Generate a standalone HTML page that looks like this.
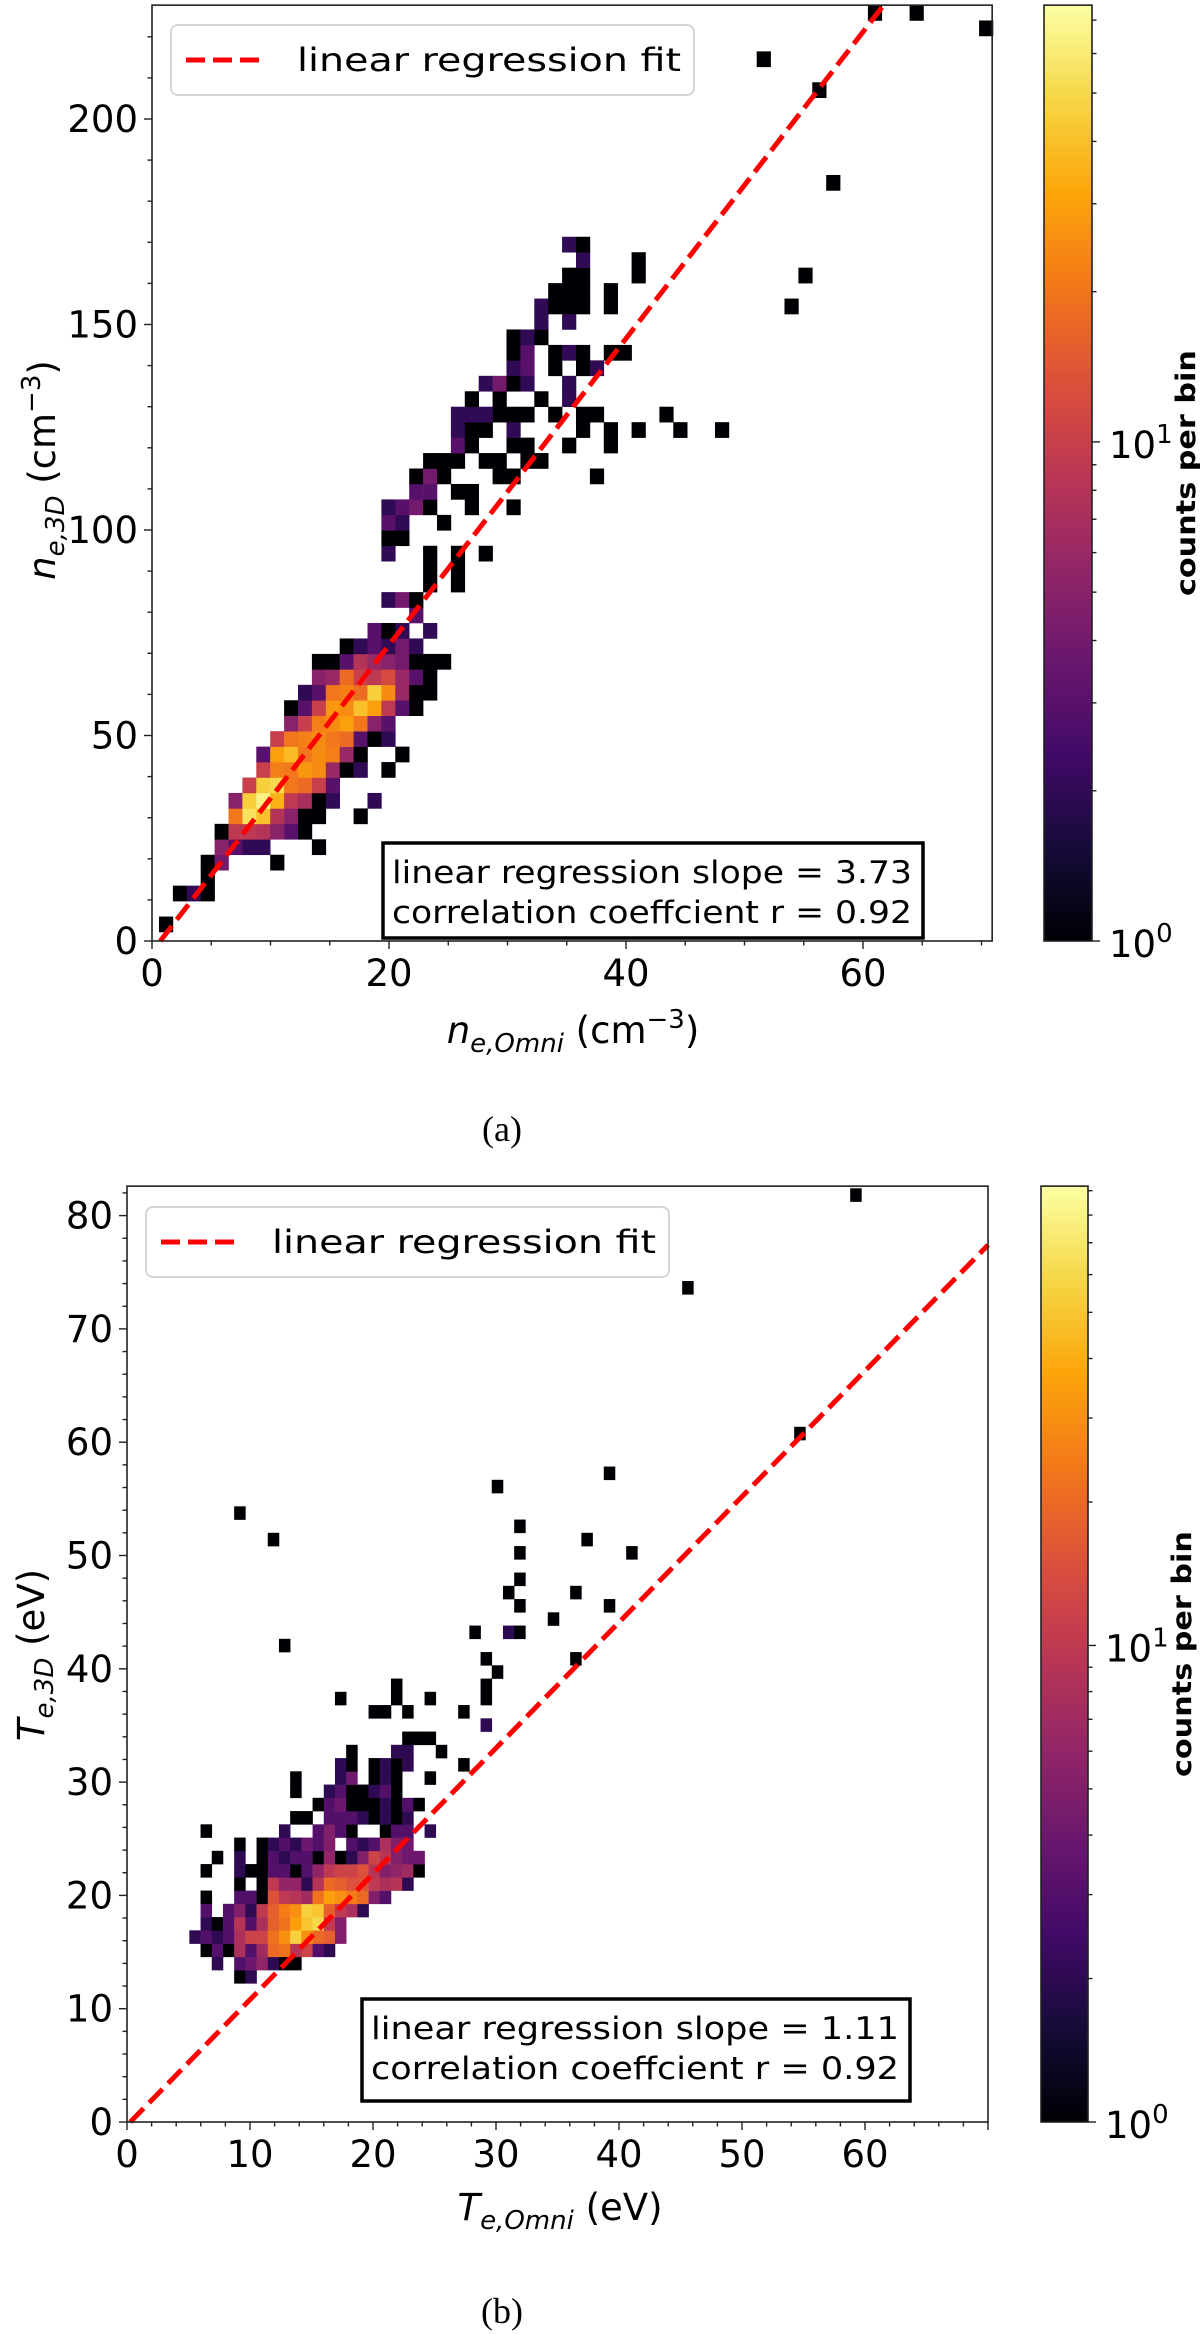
<!DOCTYPE html>
<html><head><meta charset="utf-8"><title>2D histogram comparison</title>
<style>html,body{margin:0;padding:0;background:#fff;}svg{display:block;}text{font-family:"DejaVu Sans","Liberation Sans",sans-serif;}</style>
</head><body>
<svg id="fig" xmlns="http://www.w3.org/2000/svg" width="1200" height="2334" viewBox="0 0 1200 2334">
<defs>
<linearGradient id="inf" x1="0" y1="1" x2="0" y2="0">
<stop offset="0" stop-color="#000004"/><stop offset="0.1" stop-color="#160b39"/><stop offset="0.2" stop-color="#420a68"/><stop offset="0.3" stop-color="#6a176e"/><stop offset="0.4" stop-color="#932667"/><stop offset="0.5" stop-color="#bc3754"/><stop offset="0.6" stop-color="#dd513a"/><stop offset="0.7" stop-color="#f37819"/><stop offset="0.8" stop-color="#fca50a"/><stop offset="0.9" stop-color="#f6d746"/><stop offset="1" stop-color="#fcffa4"/>
</linearGradient>
</defs>
<g id="top"></g>
<g id="bot"></g>
<text x="502" y="1141" font-family="Liberation Serif,serif" font-size="36" text-anchor="middle" style="font-family:'Liberation Serif',serif">(a)</text>
<text x="502" y="2323" font-family="Liberation Serif,serif" font-size="36" text-anchor="middle" style="font-family:'Liberation Serif',serif">(b)</text>
</svg>
<script>
// ---- Panel (a) data: bins [col,row,count] ----
const topXTicks = [0, 20, 40, 60];
const topYTicks = [0, 50, 100, 150, 200];
const topSlope = 3.73;
const topIntercept = -2.6;
const topBins = [[0,0,1],[1,2,1],[2,2,2],[3,2,1],[3,3,1],[3,4,1],[4,4,4],[8,4,1],
[4,5,5],[5,5,3],[6,5,2],[7,5,2],[11,5,1],
[4,6,1],[5,6,9],[6,6,9],[7,6,8],[8,6,5],[9,6,3],[10,6,1],
[5,7,20],[6,7,55],[7,7,40],[8,7,8],[9,7,5],[10,7,1],[11,7,1],[14,7,1],
[5,8,5],[6,8,45],[7,8,65],[8,8,35],[9,8,9],[10,8,7],[11,8,1],[12,8,2],[15,8,2],
[6,9,10],[7,9,45],[8,9,50],[9,9,20],[10,9,18],[11,9,10],[12,9,3],
[7,10,10],[8,10,22],[9,10,20],[10,10,28],[11,10,25],[12,10,6],[13,10,1],[14,10,2],[16,10,1],
[7,11,3],[8,11,30],[9,11,38],[10,11,20],[11,11,25],[12,11,22],[13,11,6],[14,11,1],[17,11,1],
[8,12,10],[9,12,20],[10,12,22],[11,12,25],[12,12,20],[13,12,18],[14,12,3],[15,12,1],[16,12,2],
[9,13,5],[10,13,10],[11,13,22],[12,13,25],[13,13,30],[14,13,20],[15,13,5],[16,13,3],
[9,14,1],[10,14,3],[11,14,10],[12,14,28],[13,14,25],[14,14,40],[15,14,30],[16,14,9],[17,14,3],[18,14,1],
[10,15,2],[11,15,3],[12,15,20],[13,15,22],[14,15,18],[15,15,45],[16,15,25],[17,15,6],[18,15,1],[19,15,1],
[11,16,5],[12,16,6],[13,16,18],[14,16,10],[15,16,9],[16,16,12],[17,16,6],[18,16,3],[19,16,1],
[11,17,1],[12,17,1],[13,17,3],[14,17,8],[15,17,6],[16,17,5],[17,17,4],[18,17,1],[19,17,1],[20,17,1],
[13,18,1],[14,18,2],[15,18,3],[16,18,2],[17,18,4],[18,18,2],
[15,19,3],[16,19,1],[17,19,2],[19,19,2],[18,20,3],[16,21,2],[17,21,4],[18,21,1],
[19,22,1],[21,22,1],[19,23,1],[21,23,1],
[16,24,2],[19,24,1],[21,24,1],[23,24,1],[16,25,1],[17,25,1],[16,26,3],[17,26,2],[20,26,1],
[16,27,2],[17,27,3],[18,27,4],[19,27,1],[22,27,1],[25,27,1],
[18,28,3],[19,28,3],[21,28,1],[22,28,1],
[18,29,1],[19,29,4],[20,29,1],[24,29,1],[25,29,1],[31,29,1],
[19,30,1],[20,30,1],[21,30,1],[23,30,1],[24,30,1],[26,30,1],[27,30,1],
[21,31,3],[22,31,1],[25,31,1],[26,31,1],[29,31,1],[32,31,1],
[21,32,2],[22,32,1],[23,32,1],[25,32,2],[30,32,1],[32,32,1],[34,32,1],[37,32,1],[40,32,1],
[21,33,2],[22,33,2],[23,33,2],[24,33,1],[25,33,1],[26,33,1],[28,33,1],[30,33,1],[31,33,1],[36,33,1],
[22,34,1],[24,34,1],[27,34,1],[29,34,2],
[23,35,2],[24,35,4],[25,35,1],[26,35,2],[29,35,2],
[25,36,2],[26,36,3],[28,36,1],[30,36,1],[31,36,2],
[25,37,1],[26,37,3],[28,37,1],[29,37,2],[30,37,1],[32,37,1],[33,37,1],
[25,38,1],[26,38,2],[27,38,1],[27,39,2],[29,39,2],
[27,40,2],[28,40,1],[29,40,1],[30,40,1],[32,40,1],[45,40,1],
[28,41,1],[29,41,1],[30,41,1],[32,41,1],
[29,42,1],[30,42,1],[34,42,1],[46,42,1],[30,43,2],[34,43,1],[29,44,2],[30,44,1],
[48,48,1],[47,54,1],[43,56,1],[59,58,1],[51,59,1],[54,59,1]];

// ---- Panel (b) data ----
const botXTicks = [0, 10, 20, 30, 40, 50, 60];
const botYTicks = [0, 10, 20, 30, 40, 50, 60, 70, 80];
const botSlope = 1.11;
const botIntercept = -0.3;
const botBins = [[4,0,1],[5,0,2],
[2,1,2],[4,1,3],[5,1,4],[6,1,6],[7,1,2],[8,1,1],[9,1,1],
[1,2,1],[2,2,3],[3,2,1],[4,2,8],[5,2,3],[6,2,7],[7,2,20],[8,2,22],[9,2,9],[10,2,12],[11,2,3],[12,2,2],
[0,3,2],[1,3,3],[2,3,2],[3,3,3],[4,3,8],[5,3,12],[6,3,12],[7,3,22],[8,3,30],[9,3,55],[10,3,30],[11,3,20],[12,3,18],[13,3,5],
[1,4,2],[2,4,1],[3,4,3],[4,4,9],[5,4,3],[6,4,8],[7,4,18],[8,4,22],[9,4,35],[10,4,50],[11,4,60],[12,4,10],[13,4,5],
[1,5,3],[3,5,3],[4,5,5],[5,5,2],[6,5,10],[7,5,18],[8,5,25],[9,5,30],[10,5,55],[11,5,50],[12,5,18],[13,5,10],[14,5,8],[15,5,2],
[1,6,1],[4,6,3],[5,6,3],[6,6,1],[7,6,15],[8,6,10],[9,6,9],[10,6,7],[11,6,22],[12,6,35],[13,6,30],[14,6,25],[15,6,20],[16,6,5],[17,6,3],
[4,7,1],[6,7,1],[7,7,10],[8,7,6],[9,7,6],[10,7,2],[11,7,9],[12,7,20],[13,7,18],[14,7,15],[15,7,15],[16,7,10],[17,7,8],[18,7,9],[19,7,2],
[1,8,1],[4,8,2],[5,8,1],[6,8,1],[7,8,3],[8,8,3],[9,8,1],[10,8,3],[11,8,6],[12,8,10],[13,8,12],[14,8,12],[15,8,15],[16,8,9],[17,8,5],[18,8,6],[19,8,7],[20,8,1],
[2,9,1],[4,9,2],[6,9,1],[7,9,3],[8,9,2],[9,9,3],[10,9,3],[11,9,1],[12,9,6],[13,9,1],[14,9,2],[15,9,5],[16,9,12],[17,9,9],[18,9,5],[19,9,4],[20,9,4],
[4,10,1],[6,10,1],[7,10,2],[8,10,3],[9,10,2],[10,10,4],[11,10,3],[12,10,5],[14,10,3],[15,10,2],[16,10,3],[17,10,8],[18,10,5],[19,10,4],
[1,11,1],[8,11,2],[11,11,3],[12,11,5],[13,11,3],[14,11,1],[17,11,1],[18,11,3],[19,11,3],[21,11,2],
[9,12,1],[10,12,1],[12,12,3],[13,12,3],[14,12,3],[15,12,2],[16,12,1],[17,12,2],[18,12,1],[19,12,2],
[11,13,1],[12,13,3],[13,13,4],[14,13,1],[15,13,1],[16,13,1],[17,13,2],[18,13,1],[19,13,3],[20,13,1],
[9,14,1],[12,14,2],[13,14,3],[14,14,1],[15,14,1],[16,14,2],[17,14,3],[18,14,1],
[9,15,1],[13,15,2],[14,15,4],[16,15,1],[17,15,2],[18,15,1],[21,15,1],
[13,16,2],[14,16,1],[16,16,1],[17,16,2],[18,16,1],[19,16,2],[24,16,1],
[14,17,1],[18,17,2],[19,17,2],[22,17,1],[19,18,1],[20,18,1],[21,18,1],[26,19,2],
[16,20,1],[17,20,1],[19,20,1],[24,20,1],[13,21,1],[18,21,1],[21,21,1],[26,21,1],[18,22,1],[26,22,1],
[27,23,1],[26,24,1],[34,24,1],[8,25,1],[25,26,1],[28,26,2],[29,26,1],[32,27,1],[29,28,1],[37,28,1],
[28,29,1],[34,29,1],[29,30,1],[29,32,1],[39,32,1],[7,33,1],[35,33,1],[29,34,1],[4,35,1],[27,37,1],[37,38,1],
[54,41,1],[44,52,1],[59,59,1]];

const NS = "http://www.w3.org/2000/svg";
const STOPS = [[0,0,0,4],[0.1,22,11,57],[0.2,66,10,104],[0.3,106,23,110],[0.4,147,38,103],[0.5,188,55,84],[0.6,221,81,58],[0.7,243,120,25],[0.8,252,165,10],[0.9,246,215,70],[1,252,255,164]];
function inferno(t){t=Math.max(0,Math.min(1,t));for(let i=1;i<STOPS.length;i++){if(t<=STOPS[i][0]){const a=STOPS[i-1],b=STOPS[i],f=(t-a[0])/(b[0]-a[0]);return "rgb("+[1,2,3].map(k=>Math.round(a[k]+(b[k]-a[k])*f)).join(",")+")";}}return "rgb(252,255,164)";}
function el(tag,attrs,parent,txt){const e=document.createElementNS(NS,tag);for(const k in attrs)e.setAttribute(k,attrs[k]);if(txt!==undefined)e.textContent=txt;parent.appendChild(e);return e;}

function panel(g,cfg){
  const xs=v=>cfg.x0+v*cfg.kx, ys=v=>cfg.y0-v*cfg.ky;
  // bins
  const binG=el("g",{},g);
  
  
  cfg.bins.forEach(b=>{
    const vx=cfg.bx0+b[0]*cfg.bdx, vy=cfg.by0+b[1]*cfg.bdy;
    const x1=xs(vx), x2=xs(vx+cfg.bdx), y1=ys(vy+cfg.bdy), y2=ys(vy);
    const r=el("rect",{x:x1.toFixed(2),y:y1.toFixed(2),width:(x2-x1+0.3).toFixed(2),height:(y2-y1+0.3).toFixed(2),fill:inferno(Math.log(b[2])/Math.log(cfg.vmax))},binG);
    
    
  });
  // regression line
  const xa=Math.max(cfg.xmin,-cfg.b/cfg.m), ya=cfg.m*xa+cfg.b;
  let xb=cfg.xmax, yb=cfg.m*xb+cfg.b; if(yb>cfg.ymax){yb=cfg.ymax;xb=(yb-cfg.b)/cfg.m;}
  const ln=el("line",{x1:xs(xa),y1:ys(ya),x2:xs(xb),y2:ys(yb),stroke:"#ff0000","stroke-width":5,"stroke-dasharray":"19 8"},g);
  
  
  // frame
  const fr=el("rect",{x:cfg.x0,y:ys(cfg.ymax),width:xs(cfg.xmax)-cfg.x0,height:cfg.y0-ys(cfg.ymax),fill:"none",stroke:"#222","stroke-width":1.6},g);
  
  
  // ticks
  for(let v=0;v<=cfg.xmax+1e-6;v+=cfg.xminor){const x=xs(v),maj=Math.abs(v/cfg.xmajor-Math.round(v/cfg.xmajor))<1e-6;el("line",{x1:x,y1:cfg.y0,x2:x,y2:cfg.y0+(maj?8:4.5),stroke:"#222","stroke-width":1.4},g);}
  for(let v=0;v<=cfg.ymax+1e-6;v+=cfg.yminor){const y=ys(v),maj=Math.abs(v/cfg.ymajor-Math.round(v/cfg.ymajor))<1e-6;el("line",{x1:cfg.x0,y1:y,x2:cfg.x0-(maj?8:4.5),y2:y,stroke:"#222","stroke-width":1.4},g);}
  cfg.xticks.forEach(v=>{const t=el("text",{x:xs(v),y:cfg.xlabY,"font-size":37,"text-anchor":"middle"},g,String(v));
    
    });
  cfg.yticks.forEach(v=>{const t=el("text",{x:cfg.x0-14,y:ys(v)+13,"font-size":37,"text-anchor":"end"},g,String(v));
    
    });
  // legend
  const lg=el("g",{},g);
  
  
  el("rect",{x:cfg.leg[0],y:cfg.leg[1],width:cfg.leg[2],height:cfg.leg[3],rx:7,fill:"#fff","fill-opacity":0.85,stroke:"#d6d6d6","stroke-width":2},lg);
  const my=cfg.leg[1]+cfg.leg[3]/2;
  el("line",{x1:cfg.leg[0]+15,y1:my,x2:cfg.leg[0]+93,y2:my,stroke:"#ff0000","stroke-width":5,"stroke-dasharray":"19 8"},lg);
  const lt=el("text",{x:cfg.leg[0]+126,y:my+11,"font-size":32,textLength:384,lengthAdjust:"spacingAndGlyphs"},lg,"linear regression fit");
  
  
  // stats box
  const sb=el("g",{},g);
  
  
  el("rect",{x:cfg.sbox[0],y:cfg.sbox[1],width:cfg.sbox[2],height:cfg.sbox[3],fill:"#fff",stroke:"#000","stroke-width":3.5},sb);
  el("text",{x:cfg.sbox[0]+9,y:cfg.sbox[1]+40,"font-size":31,textLength:cfg.sbox[2]-20,lengthAdjust:"spacingAndGlyphs"},sb,cfg.line1);
  el("text",{x:cfg.sbox[0]+9,y:cfg.sbox[1]+80,"font-size":31,textLength:cfg.sbox[2]-20,lengthAdjust:"spacingAndGlyphs"},sb,cfg.line2);
  // colorbar
  const cb=el("g",{},g);
  
  
  const cTop=ys(cfg.ymax), cH=cfg.y0-cTop;
  el("rect",{x:cfg.cbx,y:cTop,width:cfg.cbw,height:cH,fill:"url(#inf)",stroke:"#222","stroke-width":1.6},cb);
  const cy=v=>cfg.y0-Math.log(v)/Math.log(cfg.vmax)*cH;
  [2,3,4,5,6,7,8,9,20,30,40,50,60,70,80,90].filter(v=>v<cfg.vmax).forEach(v=>el("line",{x1:cfg.cbx+cfg.cbw,y1:cy(v),x2:cfg.cbx+cfg.cbw+4.5,y2:cy(v),stroke:"#222","stroke-width":1.4},cb));
  [[1,"0"],[10,"1"]].forEach(p=>{const y=cy(p[0]);el("line",{x1:cfg.cbx+cfg.cbw,y1:y,x2:cfg.cbx+cfg.cbw+8,y2:y,stroke:"#222","stroke-width":1.4},cb);
    const t=el("text",{x:cfg.cbx+cfg.cbw+17,y:y+16,"font-size":37},cb,"10");el("tspan",{dy:-15,"font-size":26},t,p[1]);});
  const ct=el("text",{transform:"translate("+(cfg.cbx+cfg.cbw+103)+","+(cTop+cH/2)+") rotate(-90)","font-size":27,"font-weight":"bold","text-anchor":"middle",textLength:246,lengthAdjust:"spacingAndGlyphs"},cb,"counts per bin");
  
  
  // axis titles
  const xt=el("text",{x:cfg.xtitle[0],y:cfg.xtitle[1],"font-size":37,"text-anchor":"middle"},g);
  
  
  el("tspan",{"font-style":"italic"},xt,cfg.sym);el("tspan",{"font-style":"italic","font-size":26,dy:9},xt,"e,Omni");el("tspan",{dy:-9},xt," ("+cfg.unit);if(cfg.sup){el("tspan",{"font-size":26,dy:-15},xt,"−3");el("tspan",{dy:15},xt,")");}else el("tspan",{},xt,")");
  const yt=el("text",{transform:"translate("+cfg.ytitle[0]+","+cfg.ytitle[1]+") rotate(-90)","font-size":37,"text-anchor":"middle"},g);
  
  
  el("tspan",{"font-style":"italic"},yt,cfg.sym);el("tspan",{"font-style":"italic","font-size":26,dy:9},yt,"e,3D");el("tspan",{dy:-9},yt," ("+cfg.unit);if(cfg.sup){el("tspan",{"font-size":26,dy:-15},yt,"−3");el("tspan",{dy:15},yt,")");}else el("tspan",{},yt,")");
}

panel(document.getElementById("top"),{x0:152,y0:941,kx:11.85,ky:4.11,xmin:0,xmax:70.9,ymax:227.7,
  bins:topBins,bx0:0.59,bdx:1.173,by0:2.19,bdy:3.759,vmax:75,m:topSlope,b:topIntercept,
  xminor:5,xmajor:20,yminor:10,ymajor:50,xticks:topXTicks,yticks:topYTicks,xlabY:986,
  leg:[171,25,523,70],sbox:[383,843,540,95],line1:"linear regression slope = 3.73",line2:"correlation coeffcient r = 0.92",
  cbx:1044,cbw:48,xtitle:[573,1043],ytitle:[55,470],sym:"n",unit:"cm",sup:true});
panel(document.getElementById("bot"),{x0:127,y0:2122,kx:12.3,ky:11.33,xmin:0,xmax:70,ymax:82.6,
  bins:botBins,bx0:5.07,bdx:0.9106,by0:12.24,bdy:1.1695,vmax:92,m:botSlope,b:botIntercept,
  xminor:2,xmajor:10,yminor:2,ymajor:10,xticks:botXTicks,yticks:botYTicks,xlabY:2167,
  leg:[146,1207,523,70],sbox:[362,1999,548,102],line1:"linear regression slope = 1.11",line2:"correlation coeffcient r = 0.92",
  cbx:1041,cbw:47,xtitle:[560,2220],ytitle:[44,1655],sym:"T",unit:"eV",sup:false});
</script>
</body></html>
